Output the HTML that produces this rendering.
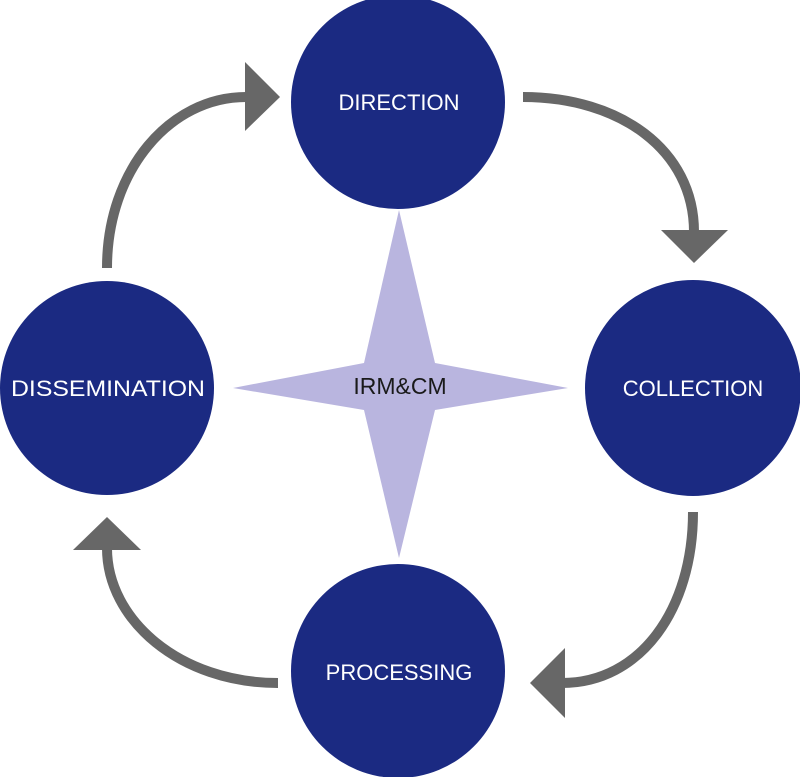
<!DOCTYPE html>
<html><head><meta charset="utf-8"><style>
html,body{margin:0;padding:0;background:#fff;}
svg{display:block}
</style></head><body>
<svg width="800" height="777" viewBox="0 0 800 777" xmlns="http://www.w3.org/2000/svg">
<g fill="none" stroke="#676767" stroke-width="10">
<path d="M523,97 C620,97 694,150 694,232"/>
<path d="M693,512 C693,610 640,683 562,683"/>
<path d="M278,683 C180,683 107,620 107,548"/>
<path d="M107,268 C107,170 170,97 246,97"/>
</g>
<g fill="#676767">
<polygon points="661,230 728,230 694,263"/>
<polygon points="565,648 565,718 530,683"/>
<polygon points="73,550 141,550 107,517"/>
<polygon points="245,62 245,131 280,97"/>
</g>
<polygon points="399,210 435,363 568,388 435,410 399,558 364,410 233,388 364,363" fill="#b9b5df"/>
<g fill="#1b2a82">
<circle cx="398" cy="102" r="107"/>
<circle cx="693" cy="388" r="108"/>
<circle cx="107" cy="388" r="107"/>
<circle cx="398" cy="671" r="107"/>
</g>
<g font-family="Liberation Sans, sans-serif" font-size="22" fill="#fff" text-anchor="middle">
<text x="399" y="110">DIRECTION</text>
<text x="693" y="396">COLLECTION</text>
<text x="108" y="396" textLength="194" lengthAdjust="spacingAndGlyphs">DISSEMINATION</text>
<text x="399" y="680">PROCESSING</text>
</g>
<text x="400" y="394" font-family="Liberation Sans, sans-serif" font-size="23" fill="#1a1a1a" text-anchor="middle">IRM&amp;CM</text>
</svg>
</body></html>
